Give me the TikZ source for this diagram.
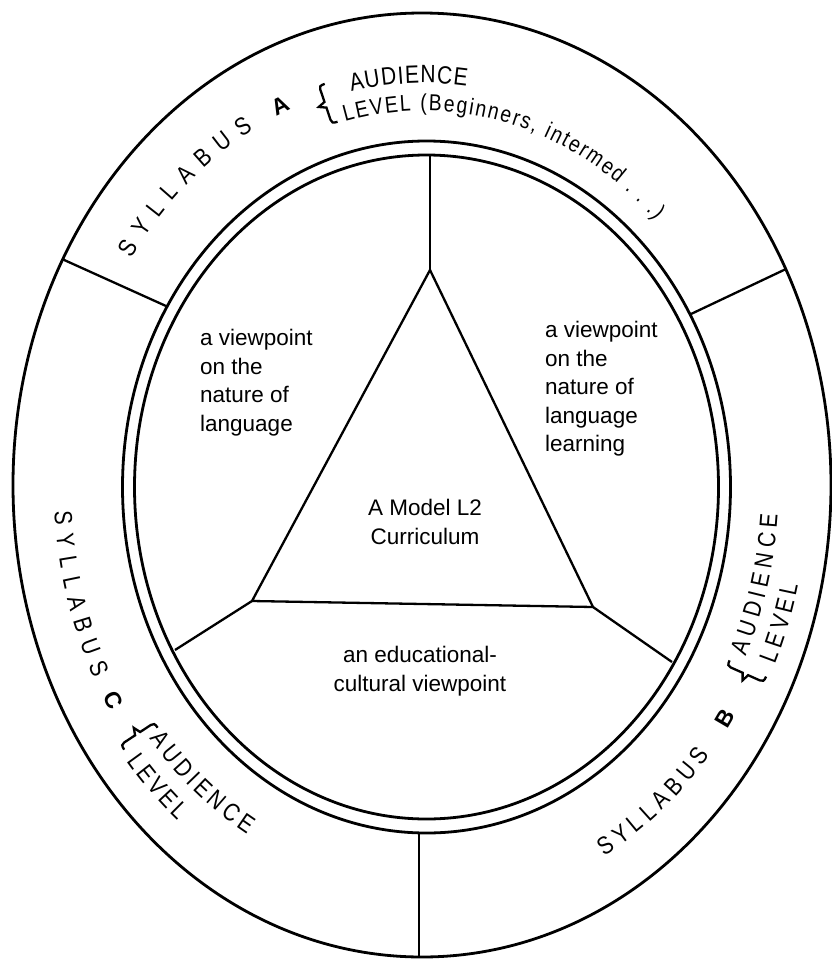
\documentclass[tikz,border=0pt]{standalone}
\usepackage{fontspec}
\setmainfont{Liberation Sans}
\newfontfamily\ringfam[FakeStretch=0.84]{Liberation Sans}
\usetikzlibrary{decorations.text,calc}
\newcommand\ringfont{\ringfam\fontsize{25}{25}\selectfont}
\newcommand\ringsmall{\ringfam\fontsize{23}{23}\selectfont}
\newcommand\ringbold{\fontsize{23}{23}\selectfont\bfseries}
\newcommand\ringtext[6][fit to path]{%
  \pgfmathsetmacro\rxa{304+105*#2}%
  \pgfmathsetmacro\rya{346+126*#2}%
  \path[decorate,decoration={text along path,text align=#1,raise=-8.5pt,
     text={|#5|#6}}]
     ($(C)+(#3:\rxa pt and \rya pt)$)
     arc[start angle=#3,end angle=#4,x radius=\rxa pt,y radius=\rya pt];}
\newcommand\ringbrace[3]{%
  \pgfmathsetmacro\rxa{304+105*#1}%
  \pgfmathsetmacro\rya{346+126*#1}%
  \pgfmathsetmacro\brot{atan2(#3*\rya*cos(#2), -#3*\rxa*sin(#2))}%
  \begin{scope}[shift={($(C)+(#2:\rxa pt and \rya pt)$)},rotate=\brot]
    \draw[bracestyle] (6,20) .. controls (1,20) and (0,19) .. (0,16) -- (0,3) -- (-7,0) -- (0,-3) -- (0,-16) .. controls (0,-19) and (1,-20) .. (6,-20);
  \end{scope}}
\begin{document}
\begin{tikzpicture}[x=1pt,y=1pt,
  ring/.style={line width=2.8pt},
  divider/.style={line width=2.3pt},
  bracestyle/.style={line width=2.3pt},
  lbl/.style={font=\fontsize{22.5}{28.5}\selectfont, inner sep=0pt},
]
\useasboundingbox (0,0) rectangle (831,-961);
\fill[white] (0,0) rectangle (831,-961);
\coordinate (C) at (424,-486);
% ellipses
\draw[ring] (422,-485) ellipse [x radius=409, y radius=472];
\draw[ring] (426.5,-487) ellipse [x radius=304, y radius=346];
\draw[ring] (426.5,-487) ellipse [x radius=292, y radius=332];
% coordinates
\coordinate (T) at (430,-270);
\coordinate (L) at (252,-601);
\coordinate (R) at (593,-607);
\coordinate (Ti) at (430,-155);
\coordinate (Li) at (175,-650);
\coordinate (Ri) at (672,-662);
\coordinate (UL1) at (166,-306);
\coordinate (UL2) at (62,-259);
\coordinate (UR1) at (691,-314);
\coordinate (UR2) at (786,-269);
\coordinate (B1) at (419,-833);
\coordinate (B2) at (419,-957);
% triangle and dividers
\draw[divider, line join=round] (T) -- (L) -- (R) -- cycle;
\draw[divider] (T) -- (Ti);
\draw[divider] (L) -- (Li);
\draw[divider] (R) -- (Ri);
\draw[divider] (UL1) -- (UL2);
\draw[divider] (UR1) -- (UR2);
\draw[divider] (B1) -- (B2);
% inner labels
\node[lbl, align=left, anchor=north west] (tl) at (200,-329) {a viewpoint\\on the\\nature of\\language};
\node[lbl, align=left, anchor=north west] (tr) at (545,-321) {a viewpoint\\on the\\nature of\\language\\learning};
\node[lbl, align=center, anchor=north] (tc) at (425,-499) {A Model L2\\Curriculum};
\node[lbl, align=center, anchor=north] (tb) at (420,-646) {an educational-\\cultural viewpoint};
% ring A (top, clockwise)
\ringtext{0.55}{146}{119}{\ringfont}{SYLLABUS}
\ringtext[center]{0.55}{117}{110}{\ringbold}{A}
\ringbrace{0.41}{106.5}{-1}
\ringtext{0.52}{102}{83}{\ringfont}{AUDIENCE}
\ringtext{0.30}{104}{45}{\ringsmall}{LEVEL (Beginners, intermed . . .)}
% ring C (left bottom, counter-clockwise)
\ringtext{0.55}{183.5}{207}{\ringfont}{SYLLABUS}
\ringtext[center]{0.55}{207.5}{214.5}{\ringbold}{C}
\ringbrace{0.52}{217}{1}
\ringtext{0.38}{219}{240}{\ringfont}{AUDIENCE}
\ringtext{0.66}{219}{230}{\ringfont}{LEVEL}
% ring B (right bottom, counter-clockwise)
\ringtext{0.55}{-61}{-39.5}{\ringfont}{SYLLABUS}
\ringtext[center]{0.55}{-37.5}{-30.5}{\ringbold}{B}
\ringbrace{0.54}{-27}{1}
\ringtext{0.40}{-25}{-4}{\ringfont}{AUDIENCE}
\ringtext{0.68}{-24}{-13}{\ringfont}{LEVEL}
\end{tikzpicture}
\end{document}
